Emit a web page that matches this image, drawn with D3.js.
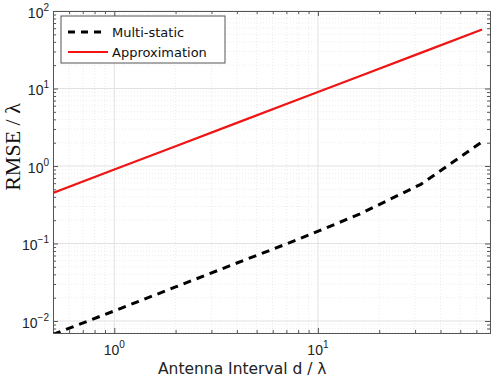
<!DOCTYPE html>
<html>
<head>
<meta charset="utf-8">
<script src="https://cdn.jsdelivr.net/npm/d3@7"></script>
<style>
  body { margin: 0; background: #fff; }
  svg { display: block; }
</style>
</head>
<body>
<svg id="chart" width="495" height="379"></svg>
<script>
// antenna interval d / lambda
const intervals = [0.5, 1, 2, 4, 8, 16, 32, 64]
// RMSE / lambda
const multiStatic = [0.0067, 0.0135, 0.0275, 0.056, 0.113, 0.239, 0.58, 2.05]
const approximation = [0.45, 0.9, 1.8, 3.6, 7.2, 14.4, 28.8, 57.6]
const seriesNames = ['Multi-static', 'Approximation']
const xTickExp = [0, 1]
const yTickExp = [-2, -1, 0, 1, 2]

const svg = d3.select('#chart')
const W = +svg.attr('width')
const H = +svg.attr('height')
const margin = { top: 11, right: 5, bottom: 46, left: 53 }
const iw = W - margin.left - margin.right
const ih = H - margin.top - margin.bottom

svg.append('rect').attr('width', W).attr('height', H).attr('fill', '#fff')

const x = d3.scaleLog().domain([0.5, 70]).range([0, iw])
const y = d3.scaleLog().domain([0.007, 100]).range([ih, 0])

const g = svg.append('g').attr('transform', `translate(${margin.left},${margin.top})`)

const xMajor = xTickExp.map(e => Math.pow(10, e))
const yMajor = yTickExp.map(e => Math.pow(10, e))
const xMinor = x.ticks().filter(v => !xMajor.some(m => Math.abs(m - v) < 1e-9))
const yMinor = y.ticks().filter(v => !yMajor.some(m => Math.abs(m - v) / m < 1e-9))

// grid, minor first
const grid = g.append('g')
grid.selectAll('.gxm').data(xMinor).enter().append('line')
  .attr('x1', d => x(d)).attr('x2', d => x(d)).attr('y1', 0).attr('y2', ih)
  .attr('stroke', '#ececec').attr('stroke-dasharray', '1,2')
grid.selectAll('.gym').data(yMinor).enter().append('line')
  .attr('y1', d => y(d)).attr('y2', d => y(d)).attr('x1', 0).attr('x2', iw)
  .attr('stroke', '#ececec').attr('stroke-dasharray', '1,2')
grid.selectAll('.gx').data(xMajor).enter().append('line')
  .attr('x1', d => x(d)).attr('x2', d => x(d)).attr('y1', 0).attr('y2', ih)
  .attr('stroke', '#e2e2e2')
grid.selectAll('.gy').data(yMajor).enter().append('line')
  .attr('y1', d => y(d)).attr('y2', d => y(d)).attr('x1', 0).attr('x2', iw)
  .attr('stroke', '#e2e2e2')

// ticks on all four sides, pointing in
function ticks (axis, tr, vals, len) {
  const a = g.append('g').attr('transform', tr)
    .call(axis.tickValues(vals).tickSize(-len).tickSizeOuter(0).tickFormat(''))
  a.select('.domain').attr('stroke', '#555')
  a.selectAll('.tick line').attr('stroke', '#555')
}
ticks(d3.axisBottom(x), `translate(0,${ih})`, xMinor, 3)
ticks(d3.axisBottom(x), `translate(0,${ih})`, xMajor, 5)
ticks(d3.axisTop(x), 'translate(0,0)', xMinor, 3)
ticks(d3.axisTop(x), 'translate(0,0)', xMajor, 5)
ticks(d3.axisLeft(y), 'translate(0,0)', yMinor, 3)
ticks(d3.axisLeft(y), 'translate(0,0)', yMajor, 5)
ticks(d3.axisRight(y), `translate(${iw},0)`, yMinor, 3)
ticks(d3.axisRight(y), `translate(${iw},0)`, yMajor, 5)

// tick labels as 10^n
const tickFont = 'Liberation Sans, Arial, sans-serif'
function powLabel (sel, e) {
  sel.append('tspan').text('10')
  sel.append('tspan').attr('dy', -7).attr('font-size', 10)
    .text(e < 0 ? '\u2212' + (-e) : e)
}
xTickExp.forEach(e => {
  const t = g.append('text')
    .attr('x', x(Math.pow(10, e))).attr('y', ih + 22)
    .attr('text-anchor', 'middle')
    .attr('font-family', tickFont).attr('font-size', 14).attr('fill', '#222')
  powLabel(t, e)
})
yTickExp.forEach(e => {
  const t = g.append('text')
    .attr('x', -4).attr('y', y(Math.pow(10, e)) + 7)
    .attr('text-anchor', 'end')
    .attr('font-family', tickFont).attr('font-size', 14).attr('fill', '#222')
  powLabel(t, e)
})

// lines
const clip = svg.append('clipPath').attr('id', 'plotclip')
clip.append('rect').attr('width', iw).attr('height', ih)
const plot = g.append('g').attr('clip-path', 'url(#plotclip)')

const line = d3.line().x(d => x(d[0])).y(d => y(d[1]))
plot.append('path')
  .datum(intervals.map((d, i) => [d, approximation[i]]))
  .attr('d', line).attr('fill', 'none')
  .attr('stroke', '#f01414').attr('stroke-width', 2.2)
plot.append('path')
  .datum(intervals.map((d, i) => [d, multiStatic[i]]))
  .attr('d', line).attr('fill', 'none')
  .attr('stroke', '#000').attr('stroke-width', 3)
  .attr('stroke-dasharray', '8,6')

// legend
const lg = g.append('g').attr('transform', 'translate(8,5)')
lg.append('rect').attr('width', 164).attr('height', 47)
  .attr('fill', '#fff').attr('stroke', '#555').attr('stroke-width', 1)
const styles = [
  { stroke: '#000', width: 3, dash: '7,6', len: 34 },
  { stroke: '#f01414', width: 2.2, dash: null, len: 40 }
]
seriesNames.forEach((name, i) => {
  const yy = 16 + i * 20
  lg.append('line').attr('x1', 7).attr('x2', 7 + styles[i].len)
    .attr('y1', yy).attr('y2', yy)
    .attr('stroke', styles[i].stroke).attr('stroke-width', styles[i].width)
    .attr('stroke-dasharray', styles[i].dash)
  lg.append('text').attr('x', 51).attr('y', yy + 5)
    .attr('font-family', 'DejaVu Sans, sans-serif').attr('font-size', 13)
    .attr('fill', '#111').text(name)
})

// axis titles
svg.append('text')
  .attr('x', 158).attr('y', 374)
  .attr('font-family', 'DejaVu Sans, sans-serif').attr('font-size', 15.5)
  .attr('fill', '#222')
  .text('Antenna Interval d / \u03bb')

svg.append('text')
  .attr('transform', 'translate(20,147) rotate(-90)')
  .attr('text-anchor', 'middle')
  .attr('font-family', 'Liberation Serif, Times New Roman, serif').attr('font-size', 22)
  .attr('fill', '#111')
  .text('RMSE / \u03bb')
</script>
</body>
</html>
